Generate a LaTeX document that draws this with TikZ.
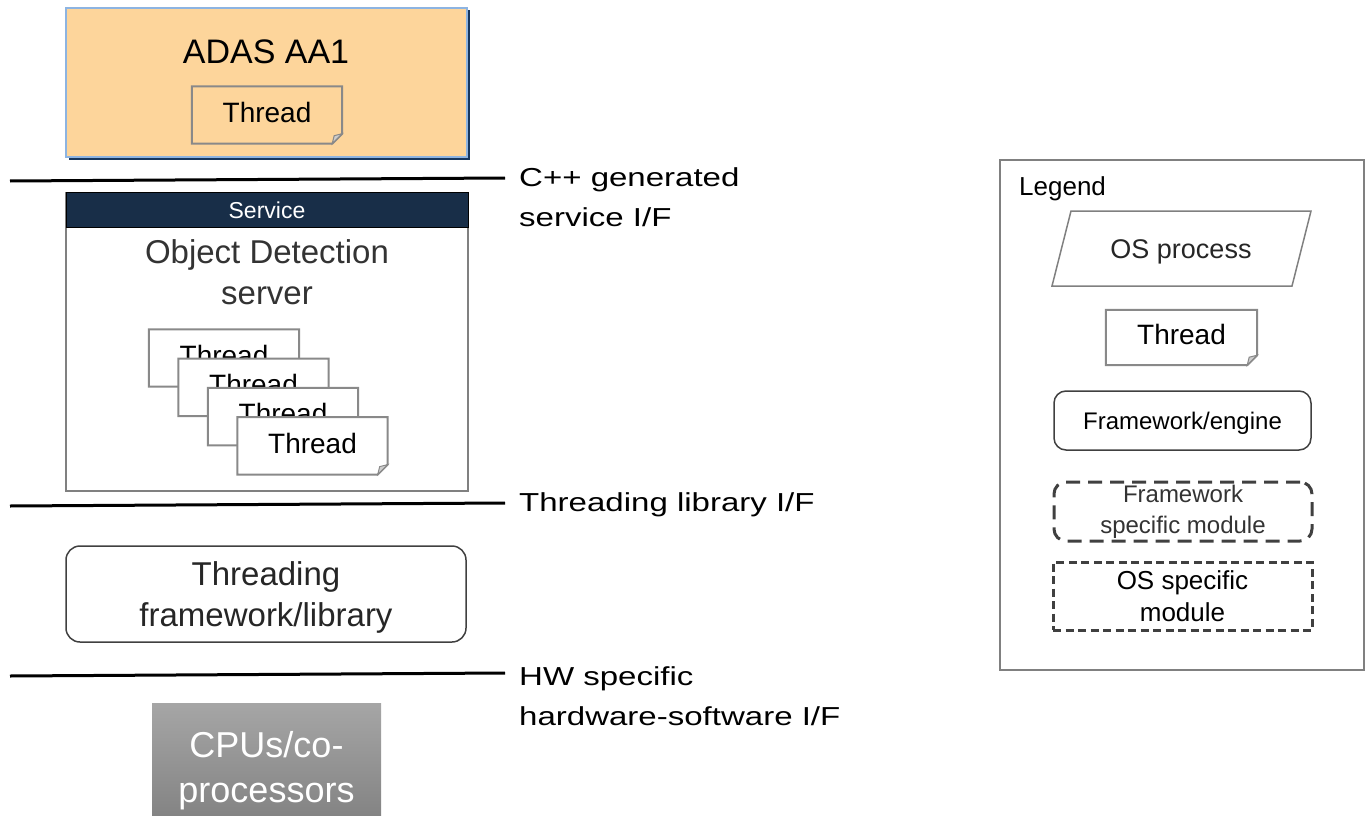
\documentclass[tikz,border=0pt]{standalone}
\usepackage{fontspec}
\setmainfont{Liberation Sans}
\newfontfamily\wideface[FakeStretch=1.27]{Liberation Sans}
\usepackage{xcolor}
\usepackage{tikz}
\usetikzlibrary{shadows}

\definecolor{adasfill}{RGB}{253,213,155}
\definecolor{adasedge}{RGB}{141,180,226}
\definecolor{adasnavy}{RGB}{23,55,94}
\definecolor{svcnavy}{RGB}{24,46,72}
\definecolor{boxgray}{RGB}{128,128,128}
\definecolor{threadgray}{RGB}{137,137,137}
\definecolor{foldgray}{RGB}{205,205,205}
\definecolor{darkline}{RGB}{64,64,64}

\tikzset{
  ifline/.style={line width=3pt},
  iflabel/.style={anchor=west, align=left, inner sep=0pt, font=\wideface\fontsize{26}{40}\selectfont},
  adas/.style={fill=adasfill, draw=adasedge, line width=1.5pt, minimum width=401pt, minimum height=149pt,
    drop shadow={shadow xshift=2.5pt, shadow yshift=-2.5pt, fill=adasnavy, opacity=1}},
  thread/.style={minimum width=150pt, minimum height=57pt, inner sep=0pt, text depth=6pt,
    font=\fontsize{28}{32}\selectfont},
  threadline/.style={draw=threadgray, line width=2pt},
  fold/.style={fill=foldgray, draw=threadgray, line width=1pt},
  svcbox/.style={draw=boxgray, line width=1.5pt, minimum width=402pt, minimum height=298pt},
  svchead/.style={fill=svcnavy, draw=black, line width=1pt, minimum width=402pt, minimum height=35pt,
    inner sep=0pt, text=white, font=\fontsize{23}{26}\selectfont},
  framework/.style={draw=darkline, line width=1.5pt, rounded corners=14pt, align=center, inner sep=0pt, text depth=0pt},
  cpu/.style={top color=black!35, bottom color=black!50, minimum width=229pt, minimum height=127pt,
    align=center, inner sep=0pt, text depth=0pt, text=white, font=\fontsize{36}{45}\selectfont},
  legendbox/.style={draw=boxgray, line width=2pt, minimum width=364pt, minimum height=510pt},
  legline/.style={draw=boxgray, line width=1.5pt},
  modline/.style={draw=darkline, line width=3pt, align=center, inner sep=0pt},
}

% outline of a thread box with its folded bottom-right corner
\newcommand{\foldedcorner}[1]{%
  \draw[threadline] (#1.north west) -- (#1.north east) -- ([yshift=10pt]#1.south east)
    -- ([xshift=-10pt]#1.south east) -- (#1.south west) -- cycle;
  \filldraw[fold] ([yshift=10pt]#1.south east) -- ([xshift=-10pt]#1.south east)
    -- ([xshift=-8pt,yshift=8pt]#1.south east) -- cycle;
}

\begin{document}
\begin{tikzpicture}[x=1pt,y=-1pt]
\useasboundingbox (0,0) rectangle (1371,816);

% application process
\node[adas] (adas) at (266.5,82.5) {};
\node[font=\fontsize{34}{40}\selectfont] (adastitle) at (266,52) {ADAS AA1};
\node[thread] (adasthread) at (267,115) {Thread};
\foldedcorner{adasthread}

\coordinate (svcifL) at (10,181);
\coordinate (svcifR) at (505,178);
\draw[ifline] (svcifL) -- (svcifR);
\node[iflabel] (svciflabel) at (519,197) {C++ generated\\service I/F};

% service with its worker threads
\node[svcbox] (svc) at (267,342) {};
\node[svchead, anchor=north] (svchead) at (svc.north) {Service};
\node[align=center, text=black!80, font=\fontsize{33}{41}\selectfont] (svcname) at (267,272) {Object Detection\\server};
\foreach \i in {1,...,4} {
  \node[thread, fill=white] (th\i) at ({194.5+29.5*\i},{328.7+29.3*\i}) {Thread};
  \foldedcorner{th\i}
}

\coordinate (thrifL) at (10,506);
\coordinate (thrifR) at (505,503);
\draw[ifline] (thrifL) -- (thrifR);
\node[iflabel] (thriflabel) at (519,505) {Threading library I/F};

\node[framework, minimum width=400pt, minimum height=96pt, text=black!85, font=\fontsize{33}{41}\selectfont] (thrlib) at (266,594) {Threading\\framework/library};

\coordinate (hwifL) at (10,676);
\coordinate (hwifR) at (505,673);
\draw[ifline] (hwifL) -- (hwifR);
\node[iflabel] (hwiflabel) at (519,696) {HW specific\\hardware-software I/F};

\node[cpu] (cpu) at (266.5,766.5) {CPUs/co-\\processors};

% legend
\node[legendbox] (legend) at (1182,415) {};
\node[anchor=west, inner sep=0pt, font=\fontsize{26}{30}\selectfont] (legendtitle) at (1019,189) {Legend};
\draw[legline] (1071,211) -- (1311,211) -- (1292,286) -- (1052,286) -- cycle;
\node[font=\fontsize{27}{30}\selectfont, text=black!85] (osproc) at (1181,252) {OS process};
\node[thread, minimum width=151pt, minimum height=55pt] (legthread) at (1181.5,337.5) {Thread};
\foldedcorner{legthread}
\node[framework, rounded corners=12pt, minimum width=257pt, minimum height=59pt, font=\fontsize{24}{30}\selectfont] (legfw) at (1182.5,420.5) {Framework/engine};
\node[modline, dash pattern=on 14pt off 8pt, rounded corners=12pt, minimum width=258pt, minimum height=59pt, text=black!80, font=\fontsize{24}{31}\selectfont] (legfwmod) at (1183,511.5) {Framework\\specific module};
\node[modline, dash pattern=on 8pt off 4.5pt, minimum width=259pt, minimum height=68pt, font=\fontsize{26}{32}\selectfont] (legosmod) at (1182.5,596) {OS specific\\module};
\end{tikzpicture}
\end{document}
